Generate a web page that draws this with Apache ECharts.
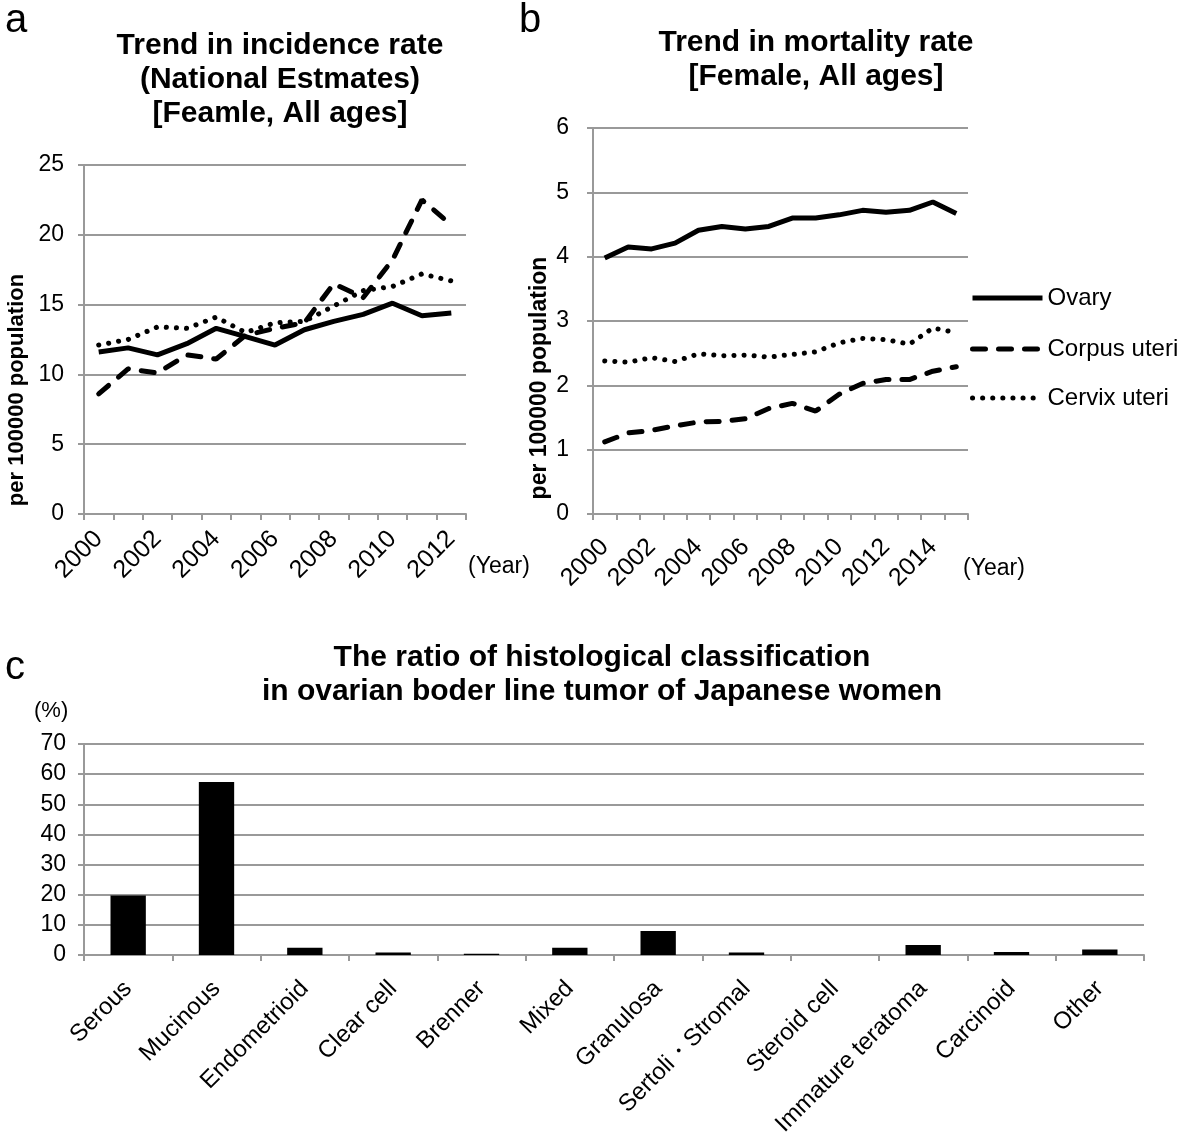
<!DOCTYPE html>
<html><head><meta charset="utf-8">
<script src="https://cdn.jsdelivr.net/npm/echarts@6/dist/echarts.min.js"></script>
<style>html,body{margin:0;padding:0;background:#fff}#c{width:1181px;height:1137px}</style>
</head><body><div id="c"></div>
<script>
const yearsA = ['2000','2001','2002','2003','2004','2005','2006','2007','2008','2009','2010','2011','2012'];
const incOvary  = [11.6, 11.9, 11.4, 12.2, 13.3, 12.7, 12.1, 13.2, 13.8, 14.3, 15.1, 14.2, 14.4];
const incCorpus = [8.6, 10.4, 10.1, 11.4, 11.1, 12.8, 13.3, 13.7, 16.5, 15.5, 18.2, 22.5, 20.7];
const incCervix = [12.1, 12.5, 13.4, 13.3, 14.1, 13.0, 13.7, 13.8, 14.9, 16.0, 16.3, 17.2, 16.7];

const yearsB = ['2000','2001','2002','2003','2004','2005','2006','2007','2008','2009','2010','2011','2012','2013','2014','2015'];
const morOvary  = [3.98, 4.15, 4.12, 4.21, 4.41, 4.47, 4.43, 4.47, 4.60, 4.60, 4.65, 4.72, 4.69, 4.72, 4.85, 4.67];
const morCorpus = [1.12, 1.26, 1.30, 1.37, 1.43, 1.44, 1.48, 1.64, 1.72, 1.60, 1.86, 2.03, 2.09, 2.09, 2.22, 2.29];
const morCervix = [2.38, 2.36, 2.43, 2.37, 2.49, 2.46, 2.47, 2.44, 2.48, 2.52, 2.66, 2.73, 2.71, 2.64, 2.89, 2.82];

const histTypes = ['Serous','Mucinous','Endometrioid','Clear cell','Brenner','Mixed','Granulosa','Sertoli・Stromal','Steroid cell','Immature teratoma','Carcinoid','Other'];
const histRatio = [19.7, 57.4, 2.4, 0.8, 0.4, 2.4, 8.0, 0.8, 0, 3.3, 1.0, 1.8];

const F = '"Liberation Sans", Arial, Helvetica, sans-serif';
const GRAY = '#999';
const chart = echarts.init(document.getElementById('c'), null, {renderer:'canvas'});

function xCat(gridIndex, data, labelInterval, margin, fontSize){
  return {type:'category', gridIndex, data, boundaryGap:true,
    axisLine:{lineStyle:{color:GRAY,width:2}},
    axisTick:{show:true, interval:0, length:6, lineStyle:{color:GRAY,width:2}},
    axisLabel:{interval:labelInterval, rotate:45, color:'#000', fontFamily:F, fontSize, margin},
    splitLine:{show:false}};
}
function yVal(gridIndex, max, interval, margin){
  return {type:'value', gridIndex, min:0, max, interval,
    axisLine:{show:true, lineStyle:{color:GRAY,width:2}},
    axisTick:{show:true, length:6, lineStyle:{color:GRAY,width:2}},
    axisLabel:{color:'#000', fontFamily:F, fontSize:23, margin},
    splitLine:{show:true, lineStyle:{color:GRAY,width:2}}};
}
const solid = {color:'#000', width:5, type:'solid'};
const dashed = {color:'#000', width:5, type:[13,13], cap:'round'};
const dotted = {color:'#000', width:5, type:[0.1,10], cap:'round'};

function line(name, data, xi, ls){
  return {type:'line', name, data, xAxisIndex:xi, yAxisIndex:xi, symbol:'none', smooth:false,
    lineStyle:ls, itemStyle:{color:'#000'}, animation:false};
}

const titleStyle = {fontFamily:F, fontSize:30, fontWeight:'bold', color:'#000', lineHeight:34, align:'center'};
const title = [
  {text:'a', left:0, top:-4, textStyle:{fontFamily:F, fontSize:40, fontWeight:'normal', color:'#000'}},
  {text:'b', left:514, top:-4, textStyle:{fontFamily:F, fontSize:40, fontWeight:'normal', color:'#000'}},
  {text:'c', left:0, top:643, textStyle:{fontFamily:F, fontSize:40, fontWeight:'normal', color:'#000'}},
  {text:'Trend in incidence rate\n(National Estmates)\n[Feamle, All ages]', left:275, top:24, textAlign:'center', textStyle:titleStyle},
  {text:'Trend in mortality rate\n[Female, All ages]', left:811, top:21, textAlign:'center', textStyle:titleStyle},
  {text:'The ratio of histological classification\nin ovarian boder line tumor of Japanese women', left:597, top:636, textAlign:'center', textStyle:titleStyle}
];

const legendBase = {orient:'vertical', itemWidth:70, itemHeight:4, padding:0, itemGap:0,
  itemStyle:{opacity:0}, lineStyle:{width:5},
  textStyle:{fontFamily:F, fontSize:24, color:'#000', padding:[0,0,0,0]}, selectedMode:false};

const gridBase = {containLabel:false, outerBoundsMode:'none'};

const option = {
  backgroundColor:'#fff',
  animation:false,
  title,
  legend:[
    Object.assign({}, legendBase, {data:['Ovary'], left:970, top:286}),
    Object.assign({}, legendBase, {data:['Corpus uteri'], left:970, top:337}),
    Object.assign({}, legendBase, {data:['Cervix uteri'], left:970, top:386})
  ],
  grid:[
    Object.assign({left:84, top:165, width:382, height:349}, gridBase),
    Object.assign({left:593, top:128, width:375, height:386}, gridBase),
    Object.assign({left:84, top:744, width:1060, height:211}, gridBase)
  ],
  xAxis:[ xCat(0, yearsA, 1, 21, 25), xCat(1, yearsB, 1, 29, 25), xCat(2, histTypes, 0, 30, 24) ],
  yAxis:[ yVal(0, 25, 5, 20), yVal(1, 6, 1, 24), yVal(2, 70, 10, 18) ],
  series:[
    line('Ovary', incOvary, 0, solid),
    line('Corpus uteri', incCorpus, 0, dashed),
    line('Cervix uteri', incCervix, 0, dotted),
    line('Ovary', morOvary, 1, solid),
    line('Corpus uteri', morCorpus, 1, dashed),
    line('Cervix uteri', morCervix, 1, dotted),
    {type:'bar', name:'ratio', data:histRatio, xAxisIndex:2, yAxisIndex:2, barWidth:'40%',
      itemStyle:{color:'#000'}, animation:false}
  ],
  graphic:[
    {type:'text', x:17, y:390, rotation:Math.PI/2, style:{text:'per 100000 population', font:'bold 22px '+F, fill:'#000', align:'center', verticalAlign:'middle'}},
    {type:'text', x:540, y:378, rotation:Math.PI/2, style:{text:'per 100000 population', font:'bold 23px '+F, fill:'#000', align:'center', verticalAlign:'middle'}},
    {type:'text', left:468, top:555, style:{text:'(Year)', font:'23px '+F, fill:'#000'}},
    {type:'text', left:963, top:557, style:{text:'(Year)', font:'23px '+F, fill:'#000'}},
    {type:'text', left:34, top:700, style:{text:'(%)', font:'22px '+F, fill:'#000'}}
  ]
};
chart.setOption(option);
</script></body></html>
